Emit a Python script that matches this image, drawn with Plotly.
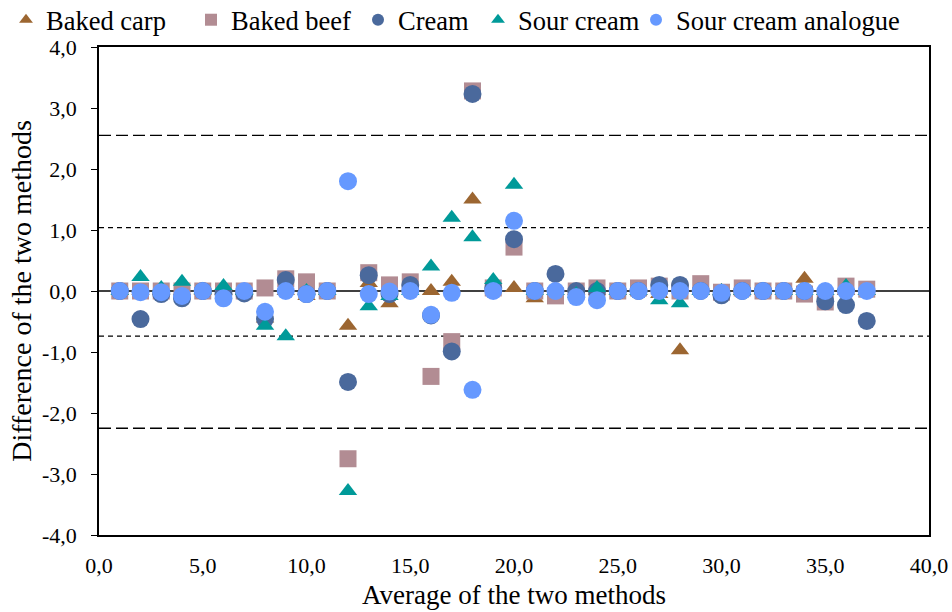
import plotly.graph_objects as go

x_avg = list(range(1, 38))

baked_carp = [0.0, 0.0, 0.0, 0.0, 0.0, 0.0, 0.0, -0.45, 0.0, -0.08,
              0.0, -0.57, 0.13, -0.2, 0.05, 0.0, 0.15, 1.5, 0.05, 0.05,
              -0.12, 0.0, 0.0, 0.0, 0.0, 0.0, -0.05, -0.97, 0.0, 0.0,
              0.0, 0.0, 0.0, 0.2, 0.0, 0.0, 0.0]
baked_beef = [0.0, 0.0, 0.0, 0.0, 0.0, 0.0, 0.0, 0.05, 0.2, 0.15,
              0.0, -2.75, 0.3, 0.1, 0.15, -1.4, -0.83, 3.28, 0.05, 0.72,
              0.0, -0.08, 0.0, 0.05, 0.0, 0.05, 0.08, 0.0, 0.12, -0.02,
              0.05, 0.0, 0.0, -0.05, -0.18, 0.08, 0.03]
cream = [0.0, -0.46, -0.05, -0.12, 0.0, -0.05, -0.04, -0.46, 0.18, -0.05,
         0.0, -1.49, 0.26, -0.05, 0.1, -0.4, -0.99, 3.23, 0.05, 0.85,
         0.0, 0.28, 0.0, 0.0, 0.0, 0.0, 0.1, 0.1, 0.0, -0.07,
         0.0, 0.0, 0.0, 0.0, -0.17, -0.23, -0.49]
sour_cream = [0.0, 0.23, 0.05, 0.15, 0.02, 0.08, 0.0, -0.57, -0.74, 0.0,
              0.0, -3.28, -0.25, -0.08, 0.0, 0.4, 1.2, 0.88, 0.18, 1.74,
              0.0, 0.0, -0.05, 0.05, 0.0, 0.0, -0.15, -0.2, 0.0, 0.0,
              0.0, 0.02, 0.0, 0.0, 0.0, 0.08, 0.0]
sc_analogue = [0.0, -0.02, -0.02, -0.08, 0.0, -0.12, 0.0, -0.34, 0.0, -0.05,
               0.0, 1.8, -0.05, -0.01, 0.0, -0.39, -0.03, -1.62, 0.0, 1.15,
               0.0, 0.0, -0.1, -0.15, 0.0, 0.0, 0.0, 0.0, 0.0, -0.03,
               0.0, 0.0, 0.0, 0.0, 0.0, 0.0, 0.0]

series_names = ["Baked carp", "Baked beef", "Cream", "Sour cream", "Sour cream analogue"]
series_values = [baked_carp, baked_beef, cream, sour_cream, sc_analogue]
series_symbols = ["triangle-up", "square", "circle", "triangle-up", "circle"]
series_colors = ["#9C6631", "#B28C93", "#4A699C", "#009A99", "#6699FF"]
series_sizes = [16, 17, 18, 16, 18]

outer_limits = [2.55, -2.25]
inner_limits = [1.04, -0.74]

x_tickvals = [0, 5, 10, 15, 20, 25, 30, 35, 40]
x_ticktext = ["0,0", "5,0", "10,0", "15,0", "20,0", "25,0", "30,0", "35,0", "40,0"]
y_tickvals = [4, 3, 2, 1, 0, -1, -2, -3, -4]
y_ticktext = ["4,0", "3,0", "2,0", "1,0", "0,0", "-1,0", "-2,0", "-3,0", "-4,0"]

ff = "Liberation Serif"
legend_ids = ["legend", "legend2", "legend3", "legend4", "legend5"]
legend_left_px = [6, 191, 358, 478, 636]

fig = go.Figure()
for name, vals, sym, col, sz, lid in zip(series_names, series_values, series_symbols,
                                         series_colors, series_sizes, legend_ids):
    fig.add_trace(go.Scatter(
        x=x_avg, y=vals, mode="markers", name=name, legend=lid,
        marker=dict(symbol=sym, color=col, size=sz, line=dict(width=0)),
    ))

fig.add_hline(y=0, line=dict(color="black", width=1.5), layer="below")
for v in outer_limits:
    fig.add_hline(y=v, line=dict(color="black", width=1.3, dash="12px,5px"), layer="below")
for v in inner_limits:
    fig.add_hline(y=v, line=dict(color="black", width=1.3, dash="5px,4px"), layer="below")

legend_layouts = {}
for lid, lx in zip(legend_ids, legend_left_px):
    legend_layouts[lid] = dict(
        orientation="h", xref="container", x=lx / 952, xanchor="left",
        yref="container", y=1 - 20 / 612, yanchor="middle",
        font=dict(family=ff, size=26.5, color="black"), itemsizing="constant",
        itemwidth=30, bgcolor="rgba(0,0,0,0)",
    )

fig.update_layout(
    width=952, height=612,
    margin=dict(l=99, r=23, t=47, b=77, autoexpand=False),
    paper_bgcolor="white", plot_bgcolor="white",
    font=dict(family=ff, size=22, color="black"),
    showlegend=True,
    **legend_layouts,
)
fig.update_xaxes(
    range=[0, 40], tickvals=x_tickvals, ticktext=x_ticktext, showgrid=False, zeroline=False,
    showline=True, linecolor="black", linewidth=1.5, mirror=True,
    ticks="", tickfont=dict(family=ff, size=22, color="black"), ticklabelstandoff=10,
    title=dict(text="Average of the two methods", font=dict(family=ff, size=27, color="black"), standoff=8),
)
fig.update_yaxes(
    range=[-4, 4], tickvals=y_tickvals, ticktext=y_ticktext, showgrid=False, zeroline=False,
    showline=True, linecolor="black", linewidth=1.5, mirror=True,
    ticks="outside", ticklen=6, tickwidth=1.3, tickcolor="black",
    tickfont=dict(family=ff, size=22, color="black"), ticklabelstandoff=10,
    title=dict(text="Difference of the two methods", font=dict(family=ff, size=28, color="black"), standoff=2),
)

fig.write_html("out.html")
